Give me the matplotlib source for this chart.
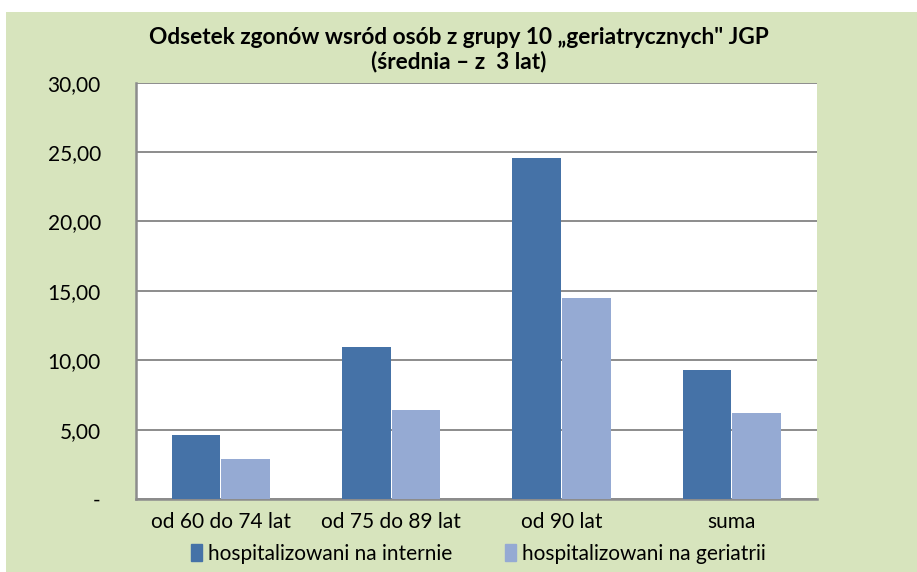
import matplotlib.pyplot as plt
import numpy as np
from matplotlib.patches import Rectangle

# Dane z wykresu
kategorie = ['od 60 do 74 lat', 'od 75 do 89 lat', 'od 90 lat', 'suma']
interna = [4.59, 10.95, 24.57, 9.27]
geriatria = [2.86, 6.39, 14.5, 6.17]
serie = ['hospitalizowani na internie', 'hospitalizowani na geriatrii']
y_ticks = [0, 5, 10, 15, 20, 25, 30]
y_labels = ['-', '5,00', '10,00', '15,00', '20,00', '25,00', '30,00']

kolor_ciemny = '#4572a7'
kolor_jasny = '#95aad3'
tlo = '#d7e4bd'

plt.rcParams['font.family'] = ['Lato', 'DejaVu Sans']

fig = plt.figure(figsize=(9.17, 5.72), dpi=100, facecolor='white')
fig.patches.append(Rectangle((6 / 917, 0), 1, 1 - 12 / 572, transform=fig.transFigure,
                             facecolor=tlo, edgecolor='none', zorder=-10))

ax = fig.add_axes([135.5 / 917, 1 - 499 / 572, (817 - 135.5) / 917, (499 - 82.7) / 572])
ax.set_facecolor('white')

x = np.arange(len(kategorie))
w = 0.285
ax.bar(x - w / 2 - 0.003, interna, width=w, color=kolor_ciemny, zorder=3)
ax.bar(x + w / 2 + 0.003, geriatria, width=w, color=kolor_jasny, zorder=3)

ax.set_xlim(-0.5, len(kategorie) - 0.5)
ax.set_ylim(0, 30)
ax.set_yticks(y_ticks)
ax.set_yticklabels(y_labels)
ax.set_xticks(x)
ax.set_xticklabels(kategorie)
ax.tick_params(length=0, labelsize=15, colors='black')
ax.tick_params(axis='y', pad=25)
ax.tick_params(axis='x', pad=9.5)
for lab in ax.get_yticklabels():
    lab.set_horizontalalignment('right')

ax.grid(axis='y', color='#8c8c8c', linewidth=1.4, zorder=0)
for s in ['top', 'right']:
    ax.spines[s].set_visible(False)
for s in ['left', 'bottom']:
    ax.spines[s].set_color('#8c8c8c')
    ax.spines[s].set_linewidth(1.8)

fig.text(0.5, 1 - 37 / 572, 'Odsetek zgonów wsród osób z grupy 10 „geriatrycznych" JGP',
         ha='center', va='center', fontsize=16.3, fontweight='bold')
fig.text(0.5, 1 - 61 / 572, '(średnia – z  3 lat)',
         ha='center', va='center', fontsize=16.3, fontweight='bold')

uchwyty = [Rectangle((0, 0), 1, 1, color=kolor_ciemny), Rectangle((0, 0), 1, 1, color=kolor_jasny)]
fig.legend(uchwyty, serie, loc='center', bbox_to_anchor=(0.5218, 1 - 554 / 572), ncol=2,
           frameon=False, fontsize=15, handlelength=0.55, handleheight=0.9,
           handletextpad=0.3, columnspacing=2.5)

fig.savefig('out.png', dpi=100, facecolor=fig.get_facecolor())
